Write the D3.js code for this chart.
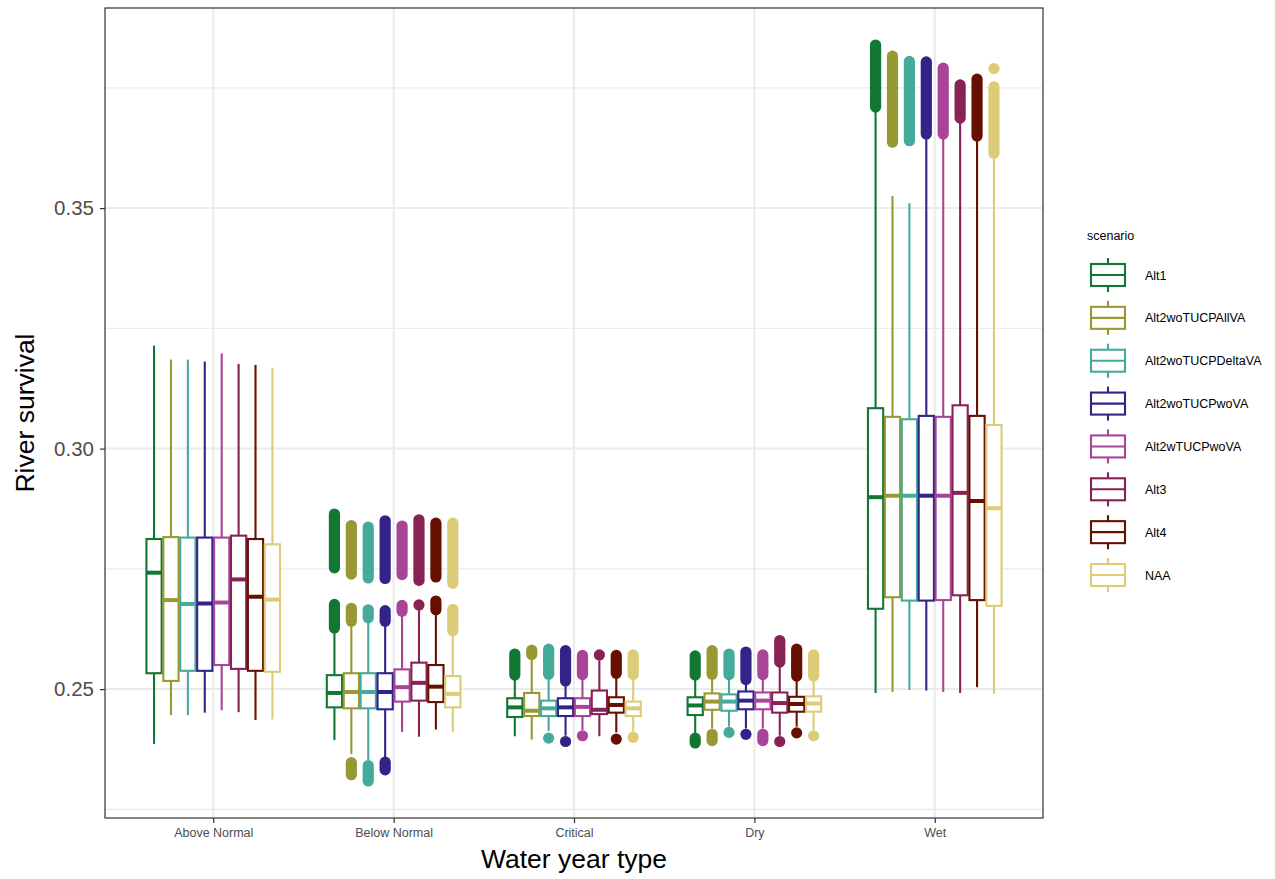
<!DOCTYPE html>
<html>
<head>
<meta charset="utf-8">
<script src="https://cdn.jsdelivr.net/npm/d3@7"></script>
<style>
  html, body { margin: 0; padding: 0; background: #fff; }
  svg { display: block; font-family: "Liberation Sans", Arial, Helvetica, sans-serif; }
</style>
</head>
<body>
<svg id="chart" width="1275" height="879"></svg>
<script>
// Water year types on the x axis
const categories = ["Above Normal", "Below Normal", "Critical", "Dry", "Wet"];

// Operating scenarios (dodged within each water year type)
const scenarios = ["Alt1", "Alt2woTUCPAllVA", "Alt2woTUCPDeltaVA", "Alt2woTUCPwoVA",
                   "Alt2wTUCPwoVA", "Alt3", "Alt4", "NAA"];
const scenarioColors = ["#117733", "#999933", "#44AA99", "#332288",
                        "#AA4499", "#882255", "#661100", "#DDCC77"];

// Box statistics per scenario: [lower whisker, Q1, median, Q3, upper whisker]
const aboveNormalStats = [
  [0.2386, 0.2533, 0.2742, 0.2812, 0.3214],
  [0.2446, 0.2517, 0.2685, 0.2816, 0.3185],
  [0.2446, 0.2538, 0.2677, 0.2815, 0.3185],
  [0.2451, 0.2538, 0.2678, 0.2815, 0.3181],
  [0.2456, 0.2550, 0.2680, 0.2815, 0.3198],
  [0.2452, 0.2542, 0.2728, 0.2819, 0.3176],
  [0.2436, 0.2538, 0.2692, 0.2812, 0.3174],
  [0.2437, 0.2536, 0.2686, 0.2801, 0.3168]
];
const belowNormalStats = [
  [0.2394, 0.2462, 0.2492, 0.2529, 0.2620],
  [0.2365, 0.2460, 0.2494, 0.2533, 0.2637],
  [0.2352, 0.2460, 0.2494, 0.2533, 0.2644],
  [0.2355, 0.2458, 0.2494, 0.2533, 0.2637],
  [0.2411, 0.2474, 0.2504, 0.2541, 0.2658],
  [0.2401, 0.2476, 0.2513, 0.2555, 0.2665],
  [0.2416, 0.2473, 0.2505, 0.2550, 0.2661],
  [0.2411, 0.2462, 0.2490, 0.2527, 0.2617]
];
const criticalStats = [
  [0.2402, 0.2442, 0.2462, 0.2481, 0.2525],
  [0.2395, 0.2444, 0.2455, 0.2492, 0.2568],
  [0.2413, 0.2444, 0.2460, 0.2476, 0.2527],
  [0.2403, 0.2444, 0.2462, 0.2481, 0.2513],
  [0.2415, 0.2444, 0.2463, 0.2481, 0.2526],
  [0.2402, 0.2448, 0.2457, 0.2497, 0.2560],
  [0.2410, 0.2451, 0.2467, 0.2483, 0.2529],
  [0.2412, 0.2444, 0.2460, 0.2474, 0.2526]
];
const dryStats = [
  [0.2405, 0.2446, 0.2466, 0.2483, 0.2525],
  [0.2418, 0.2457, 0.2474, 0.2491, 0.2527],
  [0.2422, 0.2455, 0.2474, 0.2489, 0.2526],
  [0.2418, 0.2458, 0.2476, 0.2495, 0.2516],
  [0.2418, 0.2458, 0.2476, 0.2493, 0.2526],
  [0.2403, 0.2451, 0.2471, 0.2493, 0.2552],
  [0.2422, 0.2453, 0.2469, 0.2484, 0.2523],
  [0.2415, 0.2453, 0.2470, 0.2485, 0.2523]
];
const wetStats = [
  [0.2492, 0.2667, 0.2899, 0.3084, 0.3705],
  [0.2494, 0.2691, 0.2902, 0.3066, 0.3525],
  [0.2498, 0.2684, 0.2902, 0.3061, 0.3510],
  [0.2497, 0.2684, 0.2902, 0.3068, 0.3648],
  [0.2494, 0.2685, 0.2902, 0.3066, 0.3648],
  [0.2492, 0.2695, 0.2908, 0.3090, 0.3682],
  [0.2504, 0.2685, 0.2891, 0.3068, 0.3645],
  [0.2490, 0.2673, 0.2876, 0.3049, 0.3608]
];

// Outliers per scenario, as runs of densely packed points [from, to]
const aboveNormalOutliers = [[], [], [], [], [], [], [], []];
const belowNormalOutliers = [
  [[0.2627, 0.2676], [0.2752, 0.2864]],
  [[0.2641, 0.2668], [0.2739, 0.2840], [0.2322, 0.2347]],
  [[0.2648, 0.2665], [0.2731, 0.2837], [0.2309, 0.2341]],
  [[0.2641, 0.2663], [0.2730, 0.2850], [0.2332, 0.2348]],
  [[0.2662, 0.2674], [0.2738, 0.2839]],
  [[0.2675, 0.2675], [0.2726, 0.2852]],
  [[0.2665, 0.2683], [0.2733, 0.2845]],
  [[0.2621, 0.2666], [0.2720, 0.2845]]
];
const criticalOutliers = [
  [[0.2529, 0.2573]],
  [[0.2572, 0.2581]],
  [[0.2531, 0.2583], [0.2398, 0.2398]],
  [[0.2517, 0.2580], [0.2391, 0.2391]],
  [[0.2530, 0.2570], [0.2403, 0.2403]],
  [[0.2571, 0.2571]],
  [[0.2533, 0.2570], [0.2396, 0.2396]],
  [[0.2530, 0.2571], [0.2400, 0.2400]]
];
const dryOutliers = [
  [[0.2529, 0.2569], [0.2388, 0.2398]],
  [[0.2531, 0.2580], [0.2393, 0.2406]],
  [[0.2530, 0.2573], [0.2410, 0.2410]],
  [[0.2520, 0.2577], [0.2406, 0.2406]],
  [[0.2530, 0.2571], [0.2393, 0.2406]],
  [[0.2556, 0.2601], [0.2391, 0.2391]],
  [[0.2527, 0.2583], [0.2409, 0.2409]],
  [[0.2527, 0.2571], [0.2403, 0.2403]]
];
const wetOutliers = [
  [[0.3710, 0.3839]],
  [[0.3637, 0.3816]],
  [[0.3640, 0.3805]],
  [[0.3654, 0.3804]],
  [[0.3654, 0.3791]],
  [[0.3687, 0.3756]],
  [[0.3650, 0.3768]],
  [[0.3614, 0.3752], [0.3790, 0.3790]]
];

const yTicks = [0.25, 0.30, 0.35];
const yMinorTicks = [0.225, 0.275, 0.325, 0.375];

const statsByCategory = [aboveNormalStats, belowNormalStats, criticalStats, dryStats, wetStats];
const outliersByCategory = [aboveNormalOutliers, belowNormalOutliers, criticalOutliers, dryOutliers, wetOutliers];

// ---- layout ----
const panel = { left: 105, right: 1043, top: 8, bottom: 818 };
const svg = d3.select("#chart");

const x = d3.scalePoint().domain(categories).range([panel.left, panel.right]).padding(0.6);
const groupWidth = x.step() * 0.75;
const xInner = d3.scaleBand().domain(scenarios)
  .range([-groupWidth / 2, groupWidth / 2]).paddingInner(0.1).paddingOuter(0.05);
const y = d3.scaleLinear().domain([0.2232, 0.3916]).range([panel.bottom, panel.top]);
const color = d3.scaleOrdinal().domain(scenarios).range(scenarioColors);

// panel grid
const grid = svg.append("g");
grid.selectAll("line.minor").data(yMinorTicks).join("line")
  .attr("x1", panel.left).attr("x2", panel.right)
  .attr("y1", d => y(d)).attr("y2", d => y(d))
  .attr("stroke", "#ebebeb").attr("stroke-width", 1.4);
grid.selectAll("line.major").data(yTicks).join("line")
  .attr("x1", panel.left).attr("x2", panel.right)
  .attr("y1", d => y(d)).attr("y2", d => y(d))
  .attr("stroke", "#ebebeb").attr("stroke-width", 2);
grid.selectAll("line.vmajor").data(categories).join("line")
  .attr("x1", d => x(d)).attr("x2", d => x(d))
  .attr("y1", panel.top).attr("y2", panel.bottom)
  .attr("stroke", "#ebebeb").attr("stroke-width", 2);

// boxes
const outlierR = 5.6;
const lineW = 2.1;
const boxes = [];
categories.forEach((cat, ci) => {
  scenarios.forEach((sc, si) => {
    const s = statsByCategory[ci][si];
    boxes.push({ cat, sc, lo: s[0], q1: s[1], med: s[2], q3: s[3], hi: s[4],
                 out: outliersByCategory[ci][si] });
  });
});

const g = svg.append("g");
const bw = xInner.bandwidth();
boxes.forEach(b => {
  const cx = x(b.cat) + xInner(b.sc) + bw / 2;
  const c = color(b.sc);
  const bg = g.append("g");
  // outlier runs
  b.out.forEach(([a, z]) => {
    const top = y(Math.max(a, z)), bot = y(Math.min(a, z));
    bg.append("rect")
      .attr("x", cx - outlierR).attr("width", outlierR * 2)
      .attr("y", top - outlierR).attr("height", bot - top + outlierR * 2)
      .attr("rx", outlierR).attr("ry", outlierR)
      .attr("fill", c);
  });
  // whiskers
  bg.append("line").attr("x1", cx).attr("x2", cx)
    .attr("y1", y(b.hi)).attr("y2", y(b.q3))
    .attr("stroke", c).attr("stroke-width", lineW);
  bg.append("line").attr("x1", cx).attr("x2", cx)
    .attr("y1", y(b.q1)).attr("y2", y(b.lo))
    .attr("stroke", c).attr("stroke-width", lineW);
  // box
  bg.append("rect")
    .attr("x", cx - bw / 2).attr("width", bw)
    .attr("y", y(b.q3)).attr("height", y(b.q1) - y(b.q3))
    .attr("fill", "#fff").attr("stroke", c).attr("stroke-width", lineW);
  // median
  bg.append("line")
    .attr("x1", cx - bw / 2).attr("x2", cx + bw / 2)
    .attr("y1", y(b.med)).attr("y2", y(b.med))
    .attr("stroke", c).attr("stroke-width", 4);
});

// panel border
svg.append("rect")
  .attr("x", panel.left).attr("y", panel.top)
  .attr("width", panel.right - panel.left).attr("height", panel.bottom - panel.top)
  .attr("fill", "none").attr("stroke", "#333").attr("stroke-width", 1.2);

// y axis
const yAxis = svg.append("g").attr("transform", `translate(${panel.left},0)`)
  .call(d3.axisLeft(y).tickValues(yTicks).tickFormat(d3.format(".2f")).tickSize(5).tickPadding(6));
yAxis.select(".domain").remove();
yAxis.selectAll(".tick line").attr("stroke", "#333").attr("stroke-width", 1.2);
yAxis.selectAll(".tick text").attr("fill", "#4d4d4d").style("font-size", "20.5px")
  .style("font-family", "'Liberation Sans', Arial, sans-serif");

// x axis
const xAxis = svg.append("g").attr("transform", `translate(0,${panel.bottom})`)
  .call(d3.axisBottom(x).tickSize(5).tickPadding(5));
xAxis.select(".domain").remove();
xAxis.selectAll(".tick line").attr("stroke", "#333").attr("stroke-width", 1.2);
xAxis.selectAll(".tick text").attr("fill", "#4d4d4d").style("font-size", "12.5px")
  .style("font-family", "'Liberation Sans', Arial, sans-serif");

// axis titles
svg.append("text")
  .attr("x", (panel.left + panel.right) / 2).attr("y", 868)
  .attr("text-anchor", "middle").style("font-size", "26.5px").attr("fill", "#000")
  .text("Water year type");
svg.append("text")
  .attr("transform", `translate(34,${(panel.top + panel.bottom) / 2}) rotate(-90)`)
  .attr("text-anchor", "middle").style("font-size", "26.5px").attr("fill", "#000")
  .text("River survival");

// legend
const legend = svg.append("g");
legend.append("text").attr("x", 1087).attr("y", 239.5)
  .style("font-size", "12.5px").attr("fill", "#000").text("scenario");
const keyStep = 42.86;
scenarios.forEach((sc, i) => {
  const cy = 275 + i * keyStep;
  const c = color(sc);
  const k = legend.append("g");
  k.append("line").attr("x1", 1108).attr("x2", 1108).attr("y1", cy - 17).attr("y2", cy + 17)
    .attr("stroke", c).attr("stroke-width", lineW);
  k.append("rect").attr("x", 1091).attr("y", cy - 11).attr("width", 34).attr("height", 22)
    .attr("fill", "#fff").attr("stroke", c).attr("stroke-width", lineW);
  k.append("line").attr("x1", 1091).attr("x2", 1125).attr("y1", cy).attr("y2", cy)
    .attr("stroke", c).attr("stroke-width", lineW);
  k.append("text").attr("x", 1145).attr("y", cy + 4.5)
    .style("font-size", "12.5px").attr("fill", "#000").text(sc);
});
</script>
</body>
</html>
